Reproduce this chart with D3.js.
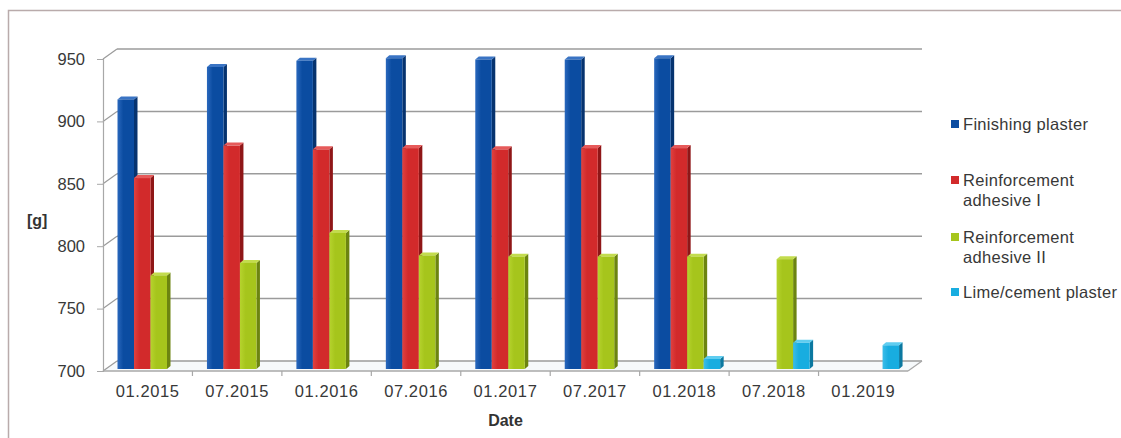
<!DOCTYPE html>
<html>
<head>
<meta charset="utf-8">
<script src="https://cdn.jsdelivr.net/npm/d3@7"></script>
<style>
html,body{margin:0;padding:0;background:#fff;}
svg{display:block;font-family:"Liberation Sans",Arial,sans-serif;}
</style>
</head>
<body>
<svg id="chart" width="1121" height="438"></svg>
<script>
const categories = ["01.2015","07.2015","01.2016","07.2016","01.2017","07.2017","01.2018","07.2018","01.2019"];
const seriesNames = ["Finishing plaster","Reinforcement adhesive I","Reinforcement adhesive II","Lime/cement plaster"];
const finishingPlaster = [916, 942, 947, 949, 948, 948, 949, null, null];
const reinforcementAdhesiveI = [853, 879, 876, 877, 876, 877, 877, null, null];
const reinforcementAdhesiveII = [775, 785, 809, 791, 790, 790, 790, 788, null];
const limeCementPlaster = [null, null, null, null, null, null, 708, 721, 719];
const yTicks = [700, 750, 800, 850, 900, 950];
const legendLines = [["Finishing plaster"],["Reinforcement","adhesive I"],["Reinforcement","adhesive II"],["Lime/cement plaster"]];

const seriesValues = [finishingPlaster, reinforcementAdhesiveI, reinforcementAdhesiveII, limeCementPlaster];
const colors = [
  {front:"#0b4ca1", light:"#2a68bd", side:"#06336f", top:"#3a74c4"},
  {front:"#d22a2b", light:"#e0413f", side:"#8f1617", top:"#e65a5a"},
  {front:"#a6c51c", light:"#b6d32e", side:"#6c8410", top:"#c3dc4e"},
  {front:"#18ade0", light:"#3cbde9", side:"#0b78a0", top:"#5fcdf0"}
];

const svg = d3.select("#chart");
const defs = svg.append("defs");
colors.forEach((c,i)=>{
  const g = defs.append("linearGradient").attr("id","g"+i).attr("x1","0").attr("x2","1").attr("y1","0").attr("y2","0");
  g.append("stop").attr("offset","0").attr("stop-color",c.light);
  g.append("stop").attr("offset","0.35").attr("stop-color",c.front);
  g.append("stop").attr("offset","1").attr("stop-color",c.front);
});

// outer border
svg.append("path").attr("d","M8.5,438 L8.5,10.5 L1121,10.5").attr("fill","none").attr("stroke","#b9abab").attr("stroke-width",1.5);

const left = 103, right = 908;
const wallDX = 14, wallDY = -10;
const y = d3.scaleLinear().domain([700,950]).range([371,59]);
const x0 = d3.scaleBand().domain(categories).range([left,right]).padding(0);
const slotW = 16.5;
const x1 = d3.scaleBand().domain(seriesNames).range([11.7, 11.7 + 4*slotW]).padding(0);
const barShiftX = 2.8, barShiftY = -2;
const bdx = 3.5, bdy = -3;

const grid = "#9b9b9b";
// floor
svg.append("path")
  .attr("d",`M${left},${y(700)} L${left+wallDX},${y(700)+wallDY} L${right+wallDX},${y(700)+wallDY} L${right},${y(700)} Z`)
  .attr("fill","#f6f9fb").attr("stroke","none");
// back wall gridlines
svg.append("g").selectAll("line").data(yTicks).join("line")
  .attr("x1",left+wallDX).attr("x2",right+wallDX)
  .attr("y1",d=>y(d)+wallDY).attr("y2",d=>y(d)+wallDY)
  .attr("stroke",grid).attr("stroke-width",1.5);
// side wall diagonals
svg.append("g").selectAll("line").data(yTicks).join("line")
  .attr("x1",left).attr("x2",left+wallDX)
  .attr("y1",d=>y(d)).attr("y2",d=>y(d)+wallDY)
  .attr("stroke",grid).attr("stroke-width",1.2);
// floor front edge and right diagonal
svg.append("line").attr("x1",left).attr("x2",right).attr("y1",y(700)).attr("y2",y(700)).attr("stroke","#a8a8a8").attr("stroke-width",1.5);
svg.append("line").attr("x1",right).attr("x2",right+wallDX).attr("y1",y(700)).attr("y2",y(700)+wallDY).attr("stroke","#a8a8a8").attr("stroke-width",1.2);

// y axis
const yAxis = d3.axisLeft(y).tickValues(yTicks).tickSize(6).tickPadding(12);
const gy = svg.append("g").attr("transform",`translate(${left},0)`).call(yAxis);
gy.select(".domain").attr("stroke","#a8a8a8").attr("stroke-width",1.2);
gy.selectAll(".tick line").attr("stroke","#a8a8a8");
gy.selectAll(".tick text").attr("font-size",16.5).attr("fill","#383838").attr("font-family","Liberation Sans, Arial, sans-serif");

// x axis
const xAxis = d3.axisBottom(x0).tickSize(0).tickPadding(14);
const gx = svg.append("g").attr("transform",`translate(0,${y(700)})`).call(xAxis);
gx.select(".domain").remove();
gx.selectAll(".tick text").attr("font-size",16.5).attr("fill","#383838").attr("letter-spacing","0.6px").attr("font-family","Liberation Sans, Arial, sans-serif");
// category boundary ticks
svg.append("g").selectAll("line").data(categories.slice(1)).join("line")
  .attr("x1",d=>x0(d)).attr("x2",d=>x0(d))
  .attr("y1",y(700)).attr("y2",y(700)+5)
  .attr("stroke","#a8a8a8").attr("stroke-width",1.2);

// bars
const bars = svg.append("g");
categories.forEach((cat,ci)=>{
  seriesNames.forEach((s,si)=>{
    const v = seriesValues[si][ci];
    if (v === null) return;
    const c = colors[si];
    const xl = x0(cat) + x1(s) + barShiftX;
    const w = x1.bandwidth();
    const yt = y(v) + barShiftY;
    const yb = y(700) + barShiftY;
    const g = bars.append("g");
    g.append("path").attr("d",`M${xl+w},${yt} L${xl+w+bdx},${yt+bdy} L${xl+w+bdx},${yb+bdy} L${xl+w},${yb} Z`).attr("fill",c.side);
    g.append("path").attr("d",`M${xl},${yt} L${xl+bdx},${yt+bdy} L${xl+w+bdx},${yt+bdy} L${xl+w},${yt} Z`).attr("fill",c.top);
    g.append("rect").attr("x",xl).attr("y",yt).attr("width",w).attr("height",yb-yt).attr("fill",`url(#g${si})`);
  });
});

// axis titles
svg.append("text").attr("x",27).attr("y",226).attr("font-size",16).attr("font-weight","bold").attr("fill","#333").text("[g]");
svg.append("text").attr("x",(left+right)/2).attr("y",426).attr("text-anchor","middle").attr("font-size",16).attr("font-weight","bold").attr("fill","#333").text("Date");

// legend
const legendY = [124, 180, 237, 292];
const lg = svg.append("g");
legendLines.forEach((lines,i)=>{
  lg.append("rect").attr("x",951).attr("y",legendY[i]-4).attr("width",8).attr("height",8).attr("fill",colors[i].front);
  lines.forEach((t,j)=>{
    lg.append("text").attr("x",963).attr("y",legendY[i]+6+j*20).attr("font-size",16.5).attr("fill","#383838").attr("letter-spacing","0.3px").text(t);
  });
});
</script>
</body>
</html>
